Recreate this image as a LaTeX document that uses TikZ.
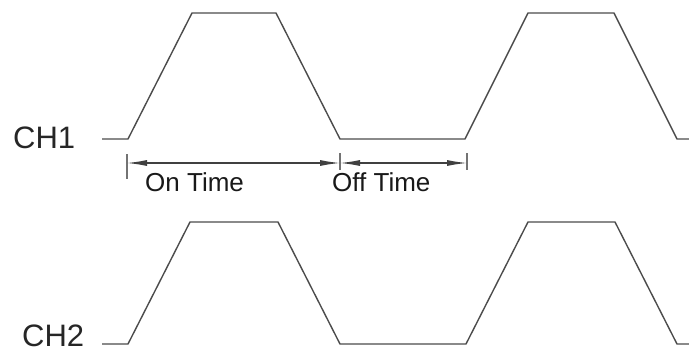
\documentclass[tikz,border=0pt]{standalone}
\usepackage{fontspec}
\setmainfont{Liberation Sans}
\usetikzlibrary{arrows.meta}
\begin{document}
\begin{tikzpicture}[x=1pt,y=-1pt,
  wave/.style={line width=1.4pt, draw=black!70, line join=round},
  dimline/.style={line width=1.2pt, draw=black!75,
    {Latex[length=20pt,width=6pt]}-{Latex[length=20pt,width=6pt]}},
  tickmark/.style={line width=1.2pt, draw=black!55},
  chlabel/.style={font=\fontsize{31}{32}\selectfont, text=black!85, inner sep=0pt, anchor=west},
  dimlabel/.style={font=\fontsize{26}{28}\selectfont, text=black!90, inner sep=0pt, anchor=base west}]
\useasboundingbox (0,0) rectangle (689,356);
\fill[white] (0,0) rectangle (689,356);
% labels
\node[chlabel] (ch1) at (13,138) {CH1};
\node[chlabel] (ch2) at (22,336) {CH2};
% waveforms
\draw[wave] (102,139) -- (128,139) -- (192,13) -- (276,13) -- (340,139) -- (465,139)
  -- (528,13) -- (614,13) -- (677,139) -- (689,139);
\draw[wave] (102,344) -- (128,344) -- (190,222) -- (278,222) -- (340,344) -- (466,344)
  -- (528,222) -- (615,222) -- (677,344) -- (689,344);
% dimension markers
\coordinate (t0a) at (127,154); \coordinate (t0b) at (127,179);
\coordinate (t1a) at (340,153); \coordinate (t1b) at (340,170);
\coordinate (t2a) at (467,153); \coordinate (t2b) at (467,170);
\coordinate (d0) at (127,163); \coordinate (d1) at (340,163); \coordinate (d2) at (467,163);
\draw[tickmark] (t0a) -- (t0b);
\draw[tickmark] (t1a) -- (t1b);
\draw[tickmark] (t2a) -- (t2b);
\draw[dimline] (d0) -- (d1);
\draw[dimline] (d1) -- (d2);
\node[dimlabel] (on) at (145,191) {On Time};
\node[dimlabel] (off) at (332,191) {Off Time};
\end{tikzpicture}
\end{document}
